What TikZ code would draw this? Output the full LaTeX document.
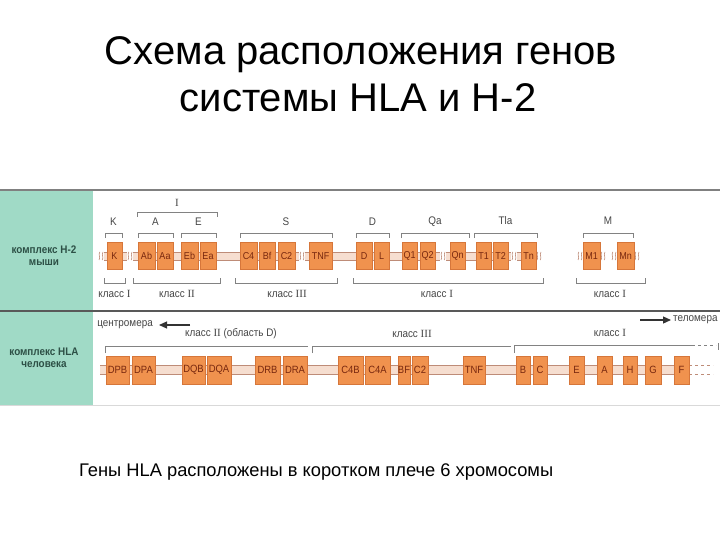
\documentclass[tikz,border=0pt]{standalone}
\usepackage{fontspec}
\setmainfont{Liberation Sans}
\newfontfamily\cond[FakeStretch=0.9]{Liberation Sans}
\newfontfamily\rmnum{Liberation Serif}
\usetikzlibrary{arrows.meta}
\definecolor{panelgreen}{RGB}{160,218,198}
\definecolor{geneorange}{RGB}{240,146,78}
\definecolor{geneedge}{RGB}{214,118,58}
\definecolor{genetext}{RGB}{120,40,15}
\definecolor{bandfill}{RGB}{246,222,208}
\definecolor{bandline}{RGB}{190,140,120}
\definecolor{brkgray}{RGB}{130,130,130}
\definecolor{labgray}{RGB}{70,70,70}
\definecolor{paneltext}{RGB}{45,80,70}
\newcommand\bandcut[2]{%
  \fill[white] (#1-2.8,#2-6) rectangle (#1+2.8,#2+6);
  \draw[bandline,line width=0.6pt] (#1-1.2,#2-4) .. controls (#1-3.2,#2-1.5) and (#1,#2+1.5) .. (#1-2,#2+4);
  \draw[bandline,line width=0.6pt] (#1+2,#2-4) .. controls (#1,#2-1.5) and (#1+3.2,#2+1.5) .. (#1+1.2,#2+4);}
\begin{document}
\begin{tikzpicture}[x=1pt,y=-1pt,
  gene/.style={draw=geneedge, fill=geneorange, line width=0.4pt, inner sep=0pt,
    minimum height=27pt, font=\cond\fontsize{10}{11}\selectfont, text=genetext},
  hgene/.style={gene, minimum height=28pt, font=\cond\fontsize{10.5}{11}\selectfont},
  brk/.style={draw=brkgray, line width=0.7pt},
  lab/.style={text=labgray, font=\cond\fontsize{11}{12}\selectfont, inner sep=0pt},
  panel/.style={text=paneltext, font=\cond\bfseries\fontsize{11}{12}\selectfont, align=center, inner sep=0pt},
  arr/.style={-{Triangle[length=8pt,width=7pt]}, line width=1.2pt, black!80}]
\useasboundingbox (0,0) rectangle (720,540);
\fill[white] (0,0) rectangle (720,540);
% titles
\node[anchor=base, font=\fontsize{40}{48}\selectfont, inner sep=0pt] (t1) at (361,65) {Схема расположения генов};
\node[anchor=base, font=\fontsize{40}{48}\selectfont, inner sep=0pt] (t2) at (358,112) {системы HLA и H-2};
\node[anchor=base west, font=\fontsize{18.3}{22}\selectfont, inner sep=0pt] (cap) at (79,476) {Гены HLA расположены в коротком плече 6 хромосомы};
% figure frame
\fill[panelgreen] (0,191) rectangle (93,405);
\draw[line width=1.5pt, black!50] (0,190) -- (720,190);
\draw[line width=1.2pt, black!65] (0,311) -- (720,311);
\draw[line width=1pt, black!15] (0,405) -- (720,405);
% panel labels
\node[panel] (mouse) at (44,256) {комплекс H-2\\мыши};
\node[panel] (human) at (44,358) {комплекс HLA\\человека};
% ---------------- mouse row ----------------
\fill[bandfill] (98,252) rectangle (542,260);
\draw[bandline,line width=0.5pt] (98,252) -- (542,252) (98,260) -- (542,260);
\fill[bandfill] (577,252) rectangle (606,260);
\draw[bandline,line width=0.5pt] (577,252) -- (606,252) (577,260) -- (606,260);
\fill[bandfill] (611,252) rectangle (640,260);
\draw[bandline,line width=0.5pt] (611,252) -- (640,252) (611,260) -- (640,260);
\foreach \bx in {101,130,302,443,514,539,580,603,614,637} {\bandcut{\bx}{256}}
\node[gene, minimum width=15pt] (K) at (114.5,256) {K};
\node[gene, minimum width=17pt] (Ab) at (146.5,256) {Ab};
\node[gene, minimum width=16pt] (Aa) at (165,256) {Aa};
\node[gene, minimum width=17pt] (Eb) at (189.5,256) {Eb};
\node[gene, minimum width=16pt] (Ea) at (208,256) {Ea};
\node[gene, minimum width=17pt] (C4m) at (248.5,256) {C4};
\node[gene, minimum width=16pt] (Bfm) at (267,256) {Bf};
\node[gene, minimum width=17pt] (C2m) at (286.5,256) {C2};
\node[gene, minimum width=23pt] (TNFm) at (320.5,256) {TNF};
\node[gene, minimum width=16pt] (Dm) at (364,256) {D};
\node[gene, minimum width=15pt] (Lm) at (381.5,256) {L};
\node[gene, minimum width=15pt] (Q1) at (409.5,256) {Q1};
\node[gene, minimum width=15pt] (Q2) at (427.5,256) {Q2};
\node[gene, minimum width=15pt] (Qn) at (457.5,256) {Qn};
\node[gene, minimum width=15pt] (T1) at (483.5,256) {T1};
\node[gene, minimum width=15pt] (T2) at (500.5,256) {T2};
\node[gene, minimum width=15pt] (Tn) at (528.5,256) {Tn};
\node[gene, minimum width=17pt] (M1) at (591.5,256) {M1};
\node[gene, minimum width=17pt] (Mn) at (625.5,256) {Mn};
% upper brackets
\draw[brk] (137,217) |- (217,212) -- (217,217);
\node[lab, font=\rmnum\fontsize{11}{12}\selectfont] (bI) at (177,203) {I};
\draw[brk] (105,238) |- (122,233) -- (122,238);
\node[lab] (bK) at (113.5,222) {K};
\draw[brk] (138,238) |- (173,233) -- (173,238);
\node[lab] (bA) at (155.5,222) {A};
\draw[brk] (181,238) |- (216,233) -- (216,238);
\node[lab] (bE) at (198.5,222) {E};
\draw[brk] (240,238) |- (332,233) -- (332,238);
\node[lab] (bS) at (286,222) {S};
\draw[brk] (356,238) |- (389,233) -- (389,238);
\node[lab] (bD) at (372.5,222) {D};
\draw[brk] (401,238) |- (469,233) -- (469,238);
\node[lab] (bQa) at (435,222) {Qa};
\draw[brk] (474,238) |- (537,233) -- (537,238);
\node[lab] (bTla) at (505.5,221) {Tla};
\draw[brk] (583,238) |- (633,233) -- (633,238);
\node[lab] (bM) at (608,221) {M};
% lower brackets
\draw[brk] (104,278) |- (125,283) -- (125,278);
\node[lab] (cl1) at (114.5,294) {класс {\rmnum I}};
\draw[brk] (133,278) |- (220,283) -- (220,278);
\node[lab] (cl2) at (177,294) {класс {\rmnum II}};
\draw[brk] (235,278) |- (337,283) -- (337,278);
\node[lab] (cl3) at (287,294) {класс {\rmnum III}};
\draw[brk] (353,278) |- (543,283) -- (543,278);
\node[lab] (cl4) at (437,294) {класс {\rmnum I}};
\draw[brk] (576,278) |- (645,283) -- (645,278);
\node[lab] (cl5) at (610,294) {класс {\rmnum I}};
% ---------------- human row ----------------
\node[lab, anchor=east] (centro) at (153,325) {центромера};
\coordinate (cA) at (190,325);
\coordinate (cB) at (159,325);
\draw[arr] (cA) -- (cB);
\coordinate (tA) at (640,320);
\coordinate (tB) at (671,320);
\draw[arr] (tA) -- (tB);
\node[lab, anchor=west] (telo) at (673,320) {теломера};
\draw[brk] (105,353) |- (308,346);
\node[lab] (h2) at (231,334) {класс {\rmnum II} (область D)};
\draw[brk] (312,353) |- (511,346);
\node[lab] (h3) at (412,334) {класс {\rmnum III}};
\draw[brk] (514,353) |- (692,345);
\draw[brk, dashed] (692,345) -- (716,345);
\draw[brk] (718,343) -- (718,350);
\node[lab] (h1) at (610,333) {класс {\rmnum I}};
\fill[bandfill] (100,365.5) rectangle (689,374.5);
\draw[bandline,line width=0.6pt] (100,365.5) -- (689,365.5) (100,374.5) -- (689,374.5);
\draw[bandline,line width=0.7pt,dashed] (689,365.5) -- (713,365.5) (689,374.5) -- (713,374.5);
\node[hgene, minimum width=23pt] (DPB) at (117.5,370) {DPB};
\node[hgene, minimum width=23pt] (DPA) at (143.5,370) {DPA};
\node[hgene, minimum width=23pt] (DQB) at (193.5,370) {DQB};
\node[hgene, minimum width=24pt] (DQA) at (219,370) {DQA};
\node[hgene, minimum width=25pt] (DRB) at (267.5,370) {DRB};
\node[hgene, minimum width=24pt] (DRA) at (295,370) {DRA};
\node[hgene, minimum width=25pt] (C4B) at (350.5,370) {C4B};
\node[hgene, minimum width=25pt] (C4A) at (377.5,370) {C4A};
\node[hgene, minimum width=12pt] (BFh) at (404,370) {BF};
\node[hgene, minimum width=16pt] (C2h) at (420,370) {C2};
\node[hgene, minimum width=22pt] (TNFh) at (474,370) {TNF};
\node[hgene, minimum width=14pt] (Bh) at (523,370) {B};
\node[hgene, minimum width=14pt] (Ch) at (540,370) {C};
\node[hgene, minimum width=15pt] (Eh) at (576.5,370) {E};
\node[hgene, minimum width=15pt] (Ah) at (604.5,370) {A};
\node[hgene, minimum width=14pt] (Hh) at (630,370) {H};
\node[hgene, minimum width=16pt] (Gh) at (653,370) {G};
\node[hgene, minimum width=15pt] (Fh) at (681.5,370) {F};
\end{tikzpicture}
\end{document}
